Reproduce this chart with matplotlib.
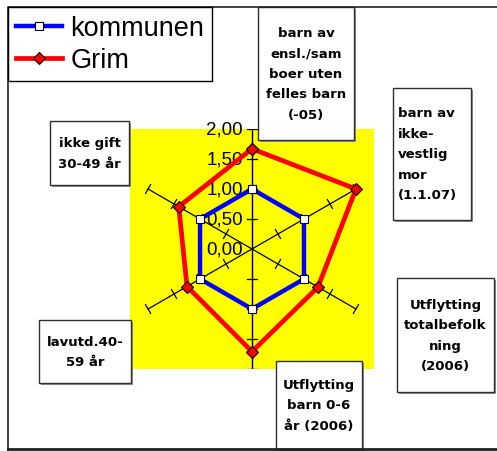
import numpy as np
import matplotlib
matplotlib.use("Agg")
import matplotlib.pyplot as plt
from matplotlib.patches import Rectangle

# data
categories = [
    "barn av\nensl./sam\nboer uten\nfelles barn\n(-05)",
    "barn av\nikke-\nvestlig\nmor\n(1.1.07)",
    "Utflytting\ntotalbefolk\nning\n(2006)",
    "Utflytting\nbarn 0-6\når (2006)",
    "lavutd.40-\n59 år",
    "ikke gift\n30-49 år",
]
kommunen = [1.00, 1.00, 1.00, 1.00, 1.00, 1.00]
grim = [1.67, 2.00, 1.27, 1.71, 1.25, 1.41]
series_names = ["kommunen", "Grim"]
axis_ticks = [0.0, 0.5, 1.0, 1.5, 2.0]

# label box layout in pixels (x0, y0, x1, y1), same order as categories
label_boxes = [(258, 8, 354, 141), (393, 89, 471, 221), (397, 279, 494, 393),
               (276, 362, 362, 450), (39, 321, 131, 384), (50, 122, 129, 186)]
label_align = ["center", "left", "center", "center", "center", "center"]

W, H = 497, 452
fig = plt.figure(figsize=(W / 100, H / 100), dpi=100)

# radar area (yellow plot area), centre at (252, 250) px, 60 px per unit
ax = fig.add_axes([130 / W, 1 - 370 / H, 244 / W, 240 / H], zorder=1)
ax.set_facecolor("#ffff00")
ax.set_xlim(-122 / 60, 122 / 60)
ax.set_ylim(-2.0, 2.0)
ax.set_xticks([])
ax.set_yticks([])
for s in ax.spines.values():
    s.set_visible(False)

n = len(categories)
theta = np.arange(n) * 2 * np.pi / n
rmax = axis_ticks[-1]

# spokes with perpendicular tick marks
ax.plot([0, 0], [-rmax, rmax], color="black", lw=0.9, zorder=2)
for t in theta:
    ux, uy = np.sin(t), np.cos(t)
    ax.plot([0, rmax * ux], [0, rmax * uy], color="black", lw=0.9, zorder=2)
    for r in axis_ticks[1:]:
        h = 0.085
        ax.plot([r * ux - h * uy, r * ux + h * uy], [r * uy + h * ux, r * uy - h * ux],
                color="black", lw=0.9, zorder=2)

for r in axis_ticks:
    ax.text(-0.15, r, f"{r:.2f}".replace(".", ","), ha="right", va="center",
            fontsize=13.5, family="Liberation Sans", zorder=3)

def closed(vals):
    v = np.array(vals + vals[:1])
    tt = np.append(theta, theta[0])
    return v * np.sin(tt), v * np.cos(tt)

x, y = closed(kommunen)
l1, = ax.plot(x, y, color="#0000ff", lw=3.2, marker="s", ms=5.5, mfc="white",
              mec="black", mew=0.8, zorder=4, clip_on=False)
x, y = closed(grim)
l2, = ax.plot(x, y, color="#ff0000", lw=3.4, marker="D", ms=6, mfc="#ff0000",
              mec="black", mew=0.8, zorder=5, clip_on=False)

# overlay in pixel coordinates for frame and label boxes
ov = fig.add_axes([0, 0, 1, 1], zorder=3)
ov.set_xlim(0, W)
ov.set_ylim(H, 0)
ov.set_axis_off()
ov.patch.set_alpha(0)

ov.plot([8, 8, W + 5], [H + 5, 8, 8], color="#202020", lw=1.2)
ov.plot([8, W + 5], [450, 450], color="#202020", lw=2)

for (x0, y0, x1, y1), lab, al in zip(label_boxes, categories, label_align):
    ov.add_patch(Rectangle((x0 + 1.5, y0 + 1.5), x1 - x0, y1 - y0, fc="#909090", ec="none"))
    ov.add_patch(Rectangle((x0, y0), x1 - x0, y1 - y0, fc="white", ec="#303030", lw=1))
    if al == "left":
        tx = x0 + 5
    else:
        tx = (x0 + x1) / 2
    ov.text(tx, (y0 + y1) / 2, lab, ha=al, va="center", fontsize=9.5,
            fontweight="bold", linespacing=1.75, family="DejaVu Sans")

leg = fig.legend([l1, l2], series_names, loc="upper left",
                 bbox_to_anchor=(8 / W, 1 - 8 / H), bbox_transform=fig.transFigure,
                 fancybox=False, edgecolor="black", framealpha=1, borderaxespad=0,
                 prop={"family": "Liberation Sans", "size": 19.5}, handlelength=1.7,
                 handletextpad=0.3, borderpad=0.3, labelspacing=0.22)
leg.get_frame().set_linewidth(1)

fig.savefig("out.png", dpi=100)
